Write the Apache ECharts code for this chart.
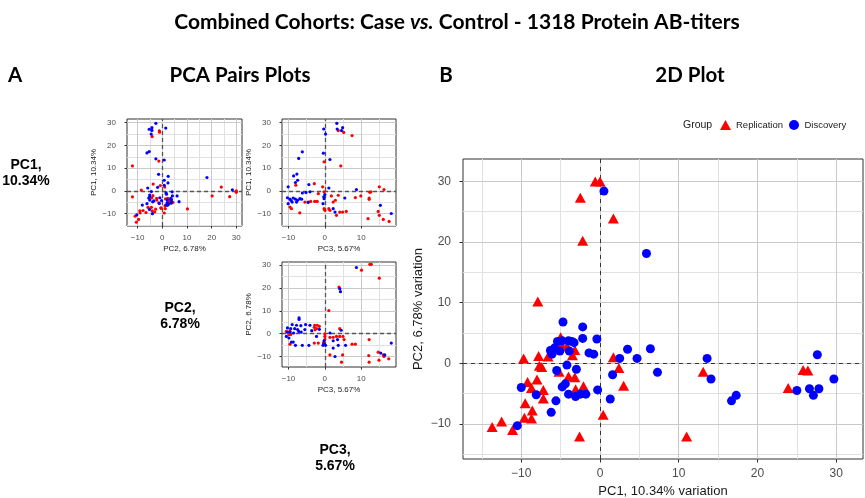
<!DOCTYPE html>
<html>
<head>
<meta charset="utf-8">
<script src="https://cdn.jsdelivr.net/npm/echarts@6/dist/echarts.min.js"></script>
<style>
  html, body { margin: 0; padding: 0; background: #fff; }
  #chart { width: 865px; height: 498px; }
</style>
</head>
<body>
<div id="chart"></div>
<script>
// 2D plot: [PC1, PC2]
const replication2D = [
  [-0.6, 30.0], [0.0, 30.0], [-2.5, 27.3], [1.7, 23.9], [-2.2, 20.2], [-7.9, 10.2],
  [-9.7, 0.8], [-7.8, 1.2], [-6.6, 1.1], [-7.7, -0.4], [-7.4, -0.6],
  [-5.0, 4.3], [-4.9, 3.0], [-4.2, 2.8], [-3.2, 2.2], [-3.5, 1.3],
  [1.7, 1.0], [2.4, -0.8], [3.0, -3.7],
  [-5.2, -1.4], [-4.0, -2.2], [-3.2, -2.3], [-2.1, -3.8], [-3.1, -4.3],
  [-9.2, -3.1], [-8.0, -2.7], [-8.7, -4.1], [-7.2, -4.4], [-7.2, -5.8],
  [-9.5, -6.6], [-8.6, -7.8], [-9.6, -9.0], [-8.7, -9.1],
  [-12.5, -9.6], [-13.7, -10.5], [-11.1, -11.0],
  [0.4, -8.5], [-2.6, -12.1], [11.0, -12.1], [13.1, -1.4], [23.9, -4.1], [25.8, -1.1], [26.4, -1.2]
];
const discovery2D = [
  [0.5, 28.4], [5.9, 18.1], [-4.7, 6.8], [-2.2, 6.0], [-2.2, 4.1], [-0.4, 4.0],
  [-5.4, 3.6], [-4.8, 3.7], [-4.0, 3.7], [-3.6, 3.6], [-3.3, 3.4],
  [-6.3, 2.1], [-5.8, 2.5], [-5.1, 2.0], [-3.9, 2.0], [-6.1, 1.5],
  [-1.4, 1.7], [-0.8, 1.5], [3.5, 2.3], [2.5, 0.8], [4.7, 0.8], [6.4, 2.4], [7.3, -1.5],
  [-4.2, -0.3], [-5.5, -1.2], [-3.0, -1.0], [1.6, -1.9],
  [-4.4, -3.4], [-4.8, -3.9], [-10.0, -4.0], [-8.1, -5.2],
  [-4.0, -5.1], [-3.1, -5.5], [-2.5, -5.1], [-1.8, -5.1], [-0.3, -4.4],
  [-5.6, -6.2], [1.3, -5.9], [-6.2, -8.1], [-10.5, -10.3],
  [13.6, 0.8], [14.1, -2.6], [16.7, -6.2], [17.3, -5.3],
  [25.0, -4.5], [26.6, -4.2], [27.1, -5.3], [27.8, -4.2], [27.6, 1.4], [29.7, -2.6]
];

// pairs plot, top right: [PC3, PC1]
const replicationPC3PC1 = [
  [3.7, 26.5], [5.2, 25.7], [7.5, 24.3], [-0.2, 12.8], [4.4, 11.0], [-2.9, 3.2], [-8.0, 2.5],
  [-0.6, 1.8], [-0.2, -0.4], [15.0, 1.8], [16.3, 0.6], [12.7, -0.4], [12.4, -0.6], [3.7, -1.9],
  [-1.8, -1.2], [1.8, -2.2], [8.4, -2.9], [9.9, -2.2], [12.2, -3.1], [12.2, -3.7], [2.9, -4.1],
  [2.3, -4.9], [-2.8, -4.6], [-2.1, -4.6], [-4.6, -5.1], [-3.9, -4.6], [-5.5, -4.9], [-9.6, -7.1],
  [-9.2, -7.8], [-6.9, -9.6], [-0.2, -7.8], [0.0, -8.5], [1.1, -7.8], [1.4, -8.5], [4.1, -9.3],
  [4.9, -9.3], [5.9, -9.0], [3.2, -10.7], [11.9, -12.2], [14.7, -9.0], [15.0, -10.7],
  [16.1, -12.5], [17.7, -13.4]
];
const discoveryPC3PC1 = [
  [3.3, 29.7], [4.9, 27.8], [3.4, 27.2], [-0.3, 27.2], [0.2, 25.0], [4.6, 26.5], [-6.2, 17.2],
  [-7.2, 14.3], [-0.4, 16.6], [1.4, 13.8], [-7.7, 7.4], [-8.6, 6.6], [-7.5, 4.7], [-8.1, 3.7],
  [-10.1, 1.8], [-4.4, 2.8], [1.1, 1.3], [8.7, 0.6], [-4.1, -0.4], [-5.2, -0.7], [-6.2, -0.9],
  [0.0, -1.6], [-0.3, -2.6], [-10.3, -3.0], [-9.6, -3.6], [-8.7, -3.1], [-8.1, -3.6], [-7.5, -4.1],
  [-6.9, -3.4], [-6.4, -3.6], [-9.3, -4.2], [-10.1, -5.6], [-9.0, -4.9], [-7.8, -4.9],
  [-4.6, -4.9], [-0.2, -3.4], [-0.5, -5.6], [5.5, -3.1], [2.3, -7.8], [2.8, -9.3],
  [15.3, -6.3], [18.3, -9.9]
];

// pairs plot, bottom right: [PC3, PC2]
const replicationPC3PC2 = [
  [12.4, 30.4], [12.8, 30.4], [10.1, 27.8], [15.0, 24.3], [3.9, 20.4], [1.1, 10.1],
  [-2.8, 3.7], [-2.1, 3.7], [-2.9, 2.8], [-2.3, 2.2], [-1.5, 3.2], [-2.7, 1.7],
  [-10.6, 1.0], [-9.6, 1.0], [-9.9, -0.4], [-9.4, -0.4], [0.0, -0.1], [0.0, -1.2], [0.0, -2.6],
  [4.1, 2.2], [1.4, -1.6], [2.3, -1.6], [3.2, -1.2], [4.1, -1.2], [5.0, -1.2], [5.3, -2.6],
  [-2.9, -4.1], [-1.8, -4.1], [-9.6, -4.6], [7.5, -4.6], [8.4, -4.6], [12.2, -2.6], [-0.4, -4.0],
  [1.4, -9.3], [4.9, -9.3], [4.6, -12.5], [12.2, -12.5], [12.1, -9.6], [14.7, -8.1],
  [14.9, -11.6], [16.1, -9.3], [16.3, -10.0], [17.6, -11.0]
];
const discoveryPC3PC2 = [
  [8.7, 29.0], [4.1, 19.7], [4.3, 18.4], [-7.1, 6.9], [-7.1, 6.2], [-9.0, 4.0], [-7.8, 3.7],
  [-6.6, 3.5], [-5.3, 4.0], [-4.1, 3.7], [-10.3, 2.5], [-9.4, 2.2], [-8.3, 2.2], [-7.5, 1.8],
  [-5.5, 1.8], [-10.3, 0.7], [-9.6, 0.7], [-8.6, 0.3], [-7.2, 1.0], [-6.5, 0.7], [-3.6, 1.3],
  [-1.5, 1.9], [-10.6, -1.2], [-9.9, -1.9], [-9.2, -3.7], [-8.7, -3.7], [-8.1, -5.1],
  [-6.2, -5.1], [-4.4, -5.1], [-2.3, -1.2], [-0.2, -3.1], [-0.2, -4.5], [-0.5, -5.1],
  [0.2, -5.1], [1.4, 0.3], [4.5, 1.5], [3.5, -2.6], [2.3, -3.1], [3.7, -5.1], [2.3, -6.3],
  [5.7, -5.1], [2.8, -10.0], [15.4, -8.5], [16.5, -9.3], [18.3, -4.1]
];

const ticksWide = [-10, 0, 10, 20, 30];
const ticksPC3 = [-10, 0, 10];
const majorLines = [-10, 0, 10, 20, 30];
const minorLines = [-15, -5, 5, 15, 25];

const RED = '#ff0000';
const BLUE = '#0000ff';
const FONT = 'Liberation Sans';
const HEAD = 'Lato';
const MAJOR = '#c9c9c9';
const MINOR = '#e1e1e1';

const minus = v => String(v).replace('-', '\u2212');

const xAxes = [];
const yAxes = [];
const ranges = [];   // per grid: {x: [min, max], y: [min, max]}

function addAxis(list, s) {
  ranges[s.grid] = ranges[s.grid] || {};
  ranges[s.grid][s.pos === 'left' ? 'y' : 'x'] = [s.min, s.max];
  list.push({
    type: 'value', gridIndex: s.grid, min: s.min, max: s.max,
    position: s.pos,
    axisLine: { show: false, onZero: false },
    axisTick: { show: true, customValues: s.ticks, length: s.tickLen,
      lineStyle: { color: '#333', width: 1 } },
    axisLabel: { customValues: s.ticks, margin: s.margin, fontSize: s.font,
      color: '#4d4d4d', fontFamily: FONT, formatter: minus },
    splitLine: { show: false },
    name: s.name, nameLocation: 'middle', nameGap: s.nameGap,
    nameRotate: s.pos === 'left' ? 90 : 0,
    nameTextStyle: { fontSize: s.nameFont, color: '#1a1a1a', fontFamily: FONT }
  });
  return list.length - 1;
}

const small = { tickLen: 2.5, font: 8, nameFont: 8 };

// grid 0: top-left (x PC2, y PC1)
const x0 = addAxis(xAxes, Object.assign({ grid: 0, min: -14.3, max: 32.3, pos: 'bottom',
  ticks: ticksWide, margin: 8, name: 'PC2, 6.78%', nameGap: 19 }, small));
const y0 = addAxis(yAxes, Object.assign({ grid: 0, min: -15.4, max: 31.6, pos: 'left',
  ticks: ticksWide, margin: 11, name: 'PC1, 10.34%', nameGap: 29 }, small));
// grid 1: top-right (x PC3, y PC1)
const x1 = addAxis(xAxes, Object.assign({ grid: 1, min: -11.8, max: 19.6, pos: 'bottom',
  ticks: ticksPC3, margin: 8, name: 'PC3, 5.67%', nameGap: 19 }, small));
const y1 = addAxis(yAxes, Object.assign({ grid: 1, min: -15.4, max: 31.6, pos: 'left',
  ticks: ticksWide, margin: 11, name: 'PC1, 10.34%', nameGap: 29 }, small));
// grid 2: bottom-right (x PC3, y PC2)
const x2 = addAxis(xAxes, Object.assign({ grid: 2, min: -11.8, max: 19.6, pos: 'bottom',
  ticks: ticksPC3, margin: 8, name: 'PC3, 5.67%', nameGap: 19 }, small));
const y2 = addAxis(yAxes, Object.assign({ grid: 2, min: -14.6, max: 31.4, pos: 'left',
  ticks: ticksWide, margin: 11, name: 'PC2, 6.78%', nameGap: 29 }, small));
// grid 3: 2D plot
const x3 = addAxis(xAxes, { grid: 3, min: -17.4, max: 33.4, pos: 'bottom',
  ticks: ticksWide, tickLen: 3.5, margin: 9, font: 12,
  name: 'PC1, 10.34% variation', nameGap: 24, nameFont: 13 });
const y3 = addAxis(yAxes, { grid: 3, min: -15.8, max: 33.7, pos: 'left',
  ticks: ticksWide, tickLen: 3.5, margin: 12, font: 12,
  name: 'PC2, 6.78% variation', nameGap: 38, nameFont: 13 });

// background grid lines of a panel, as marker lines on the panel's axes
function gridLines(g) {
  const r = ranges[g];
  const inside = (v, ext) => v > ext[0] && v < ext[1];
  const items = [];
  const push = (v, color) => {
    if (inside(v, r.x)) items.push({ xAxis: v, lineStyle: { color: color } });
    if (inside(v, r.y)) items.push({ yAxis: v, lineStyle: { color: color } });
  };
  minorLines.forEach(v => push(v, MINOR));
  majorLines.forEach(v => push(v, MAJOR));
  return {
    silent: true, z: 1.2, symbol: ['none', 'none'], label: { show: false }, animation: false,
    lineStyle: { type: 'solid', width: 1, opacity: 1 },
    emphasis: { disabled: true },
    data: items
  };
}

function zeroLines(width, color, dash) {
  return {
    silent: true, z: 1.5, symbol: ['none', 'none'], label: { show: false }, animation: false,
    lineStyle: { type: dash, color: color, width: width, opacity: 1 },
    emphasis: { disabled: true },
    data: [{ xAxis: 0 }, { yAxis: 0 }]
  };
}

function smallSeries(name, x, y, data, color, markLine) {
  return {
    type: 'scatter', name: name, xAxisIndex: x, yAxisIndex: y, data: data,
    symbol: 'circle', symbolSize: 3.2, itemStyle: { color: color, opacity: 1 }, silent: true,
    markLine: markLine
  };
}

const gridBox = { show: true, borderColor: '#333', borderWidth: 1, backgroundColor: 'transparent',
  containLabel: false, outerBoundsMode: 'none' };

function heading(text, x, y, size) {
  return { type: 'text', x: x, y: y, style: { text: text, fontFamily: HEAD, fontWeight: 'bold',
    fontSize: size, fill: '#000', textAlign: 'center', textVerticalAlign: 'middle',
    align: 'center', verticalAlign: 'middle' } };
}

function pcLabel(text, x, y) {
  return { type: 'text', x: x, y: y, style: { text: text, fontFamily: FONT, fontWeight: 'bold',
    fontSize: 14, lineHeight: 16, fill: '#000', textAlign: 'center', textVerticalAlign: 'middle',
    align: 'center', verticalAlign: 'middle' } };
}

const smallZero = () => zeroLines(1.3, '#555', [4, 3]);

const option = {
  backgroundColor: '#fff',
  animation: false,
  grid: [
    Object.assign({ left: 127, top: 119, width: 115, height: 107 }, gridBox),
    Object.assign({ left: 282, top: 119, width: 114, height: 107 }, gridBox),
    Object.assign({ left: 282, top: 262, width: 114, height: 105 }, gridBox),
    Object.assign({ left: 463, top: 159, width: 400, height: 300 }, gridBox)
  ],
  xAxis: xAxes,
  yAxis: yAxes,
  legend: {
    data: [{ name: 'Replication', icon: 'triangle' }, { name: 'Discovery', icon: 'circle' }],
    left: 720, top: 120, padding: 0, itemWidth: 11, itemHeight: 10, itemGap: 6,
    selectedMode: false,
    textStyle: { fontSize: 9.5, color: '#1a1a1a', fontFamily: FONT }
  },
  graphic: [
    { type: 'text', x: 457, y: 22, style: {
      text: '{n|Combined Cohorts: Case }{i|vs.}{n| Control - 1318 Protein AB-titers}',
      textAlign: 'center', textVerticalAlign: 'middle', align: 'center', verticalAlign: 'middle',
      rich: {
        n: { fontFamily: HEAD, fontWeight: 'bold', fontSize: 21, fill: '#000' },
        i: { fontFamily: HEAD, fontWeight: 'bold', fontStyle: 'italic', fontSize: 21, fill: '#000' }
      } } },
    heading('A', 15, 75, 20.5),
    heading('PCA Pairs Plots', 240, 75, 20.5),
    heading('B', 446, 75, 20.5),
    heading('2D Plot', 690, 75, 20.5),
    pcLabel('PC1,\n10.34%', 26, 173),
    pcLabel('PC2,\n6.78%', 180, 316),
    pcLabel('PC3,\n5.67%', 335, 458),
    { type: 'text', x: 683, y: 125.5, style: { text: 'Group', fontFamily: FONT, fontSize: 10.5,
      fill: '#1a1a1a', textAlign: 'left', textVerticalAlign: 'middle', align: 'left', verticalAlign: 'middle' } }
  ],
  series: [
    smallSeries('rep-21', x0, y0, replication2D.map(p => [p[1], p[0]]), RED, smallZero()),
    smallSeries('dis-21', x0, y0, discovery2D.map(p => [p[1], p[0]]), BLUE, gridLines(0)),
    smallSeries('rep-31', x1, y1, replicationPC3PC1, RED, smallZero()),
    smallSeries('dis-31', x1, y1, discoveryPC3PC1, BLUE, gridLines(1)),
    smallSeries('rep-32', x2, y2, replicationPC3PC2, RED, smallZero()),
    smallSeries('dis-32', x2, y2, discoveryPC3PC2, BLUE, gridLines(2)),
    {
      type: 'scatter', name: 'Replication', xAxisIndex: x3, yAxisIndex: y3, data: replication2D,
      symbol: 'triangle', symbolSize: [11, 10], itemStyle: { color: RED, opacity: 1 },
      markLine: zeroLines(1, '#333', [4, 4])
    },
    {
      type: 'scatter', name: 'Discovery', xAxisIndex: x3, yAxisIndex: y3, data: discovery2D,
      symbol: 'circle', symbolSize: 9, itemStyle: { color: BLUE, opacity: 1 },
      markLine: gridLines(3)
    }
  ]
};

const chart = echarts.init(document.getElementById('chart'), null, { renderer: 'canvas' });
chart.setOption(option);
</script>
</body>
</html>
